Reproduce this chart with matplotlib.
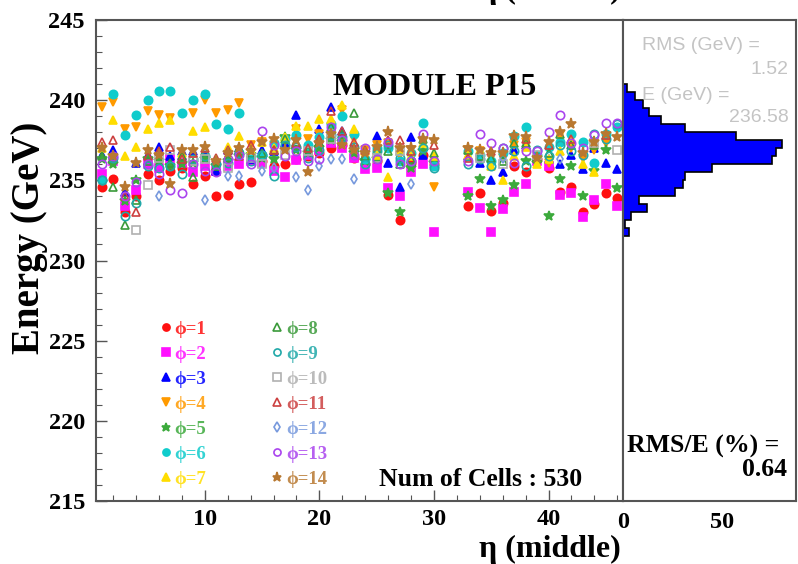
import numpy as np
import matplotlib.pyplot as plt
from matplotlib.ticker import MultipleLocator, FixedLocator

# eta (middle) cell index
eta = [1, 2, 3, 4, 5, 6, 7, 8, 9, 10, 11, 12, 13, 14, 15, 16, 17, 18, 19, 20,
       21, 22, 23, 24, 25, 26, 27, 28, 29, 30,
       33, 34, 35, 36, 37, 38, 39, 40, 41, 42, 43, 44, 45, 46]

N = None
# energy (GeV) per phi row
phi1 = [234.6, 235.1, 233.0, 234.0, 235.4, 235.0, 235.6, 235.8, 234.75, 235.25,
        234.0, 234.1, 234.8, 234.9, 236.2, 235.9, 236.0, 236.3, 236.5, 236.7,
        237.0, 237.2, 236.4, 236.0, 236.2, 234.1, 232.5, 236.1, 236.6, 236.0,
        233.4, 234.2, 233.1, 233.6, 235.9, 235.5, 236.3, 235.8, 234.3, 234.6,
        233.0, 233.5, 234.2, 233.9]
phi2 = [235.4, 236.2, 233.4, 234.4, 236.0, 235.8, 236.3, 236.1, 235.5, 235.9,
        235.6, 235.9, 236.0, 236.2, 236.1, 235.6, 235.2, 236.25, 236.6, 236.9,
        237.3, 237.0, 236.4, 235.7, 235.8, 234.5, 234.0, 235.5, 236.0, 231.8,
        234.3, 233.3, 231.8, 233.2, 234.3, 234.8, 236.2, 235.9, 234.1, 234.2,
        232.7, 233.75, 234.8, 233.4]
phi3 = [236.6, 236.9, 234.3, 236.06, 236.6, 237.1, 236.5, 236.8, 236.8, 236.6,
        235.6, 236.9, 237.0, 236.3, 236.9, 236.8, 237.3, 239.05, 237.1, 238.2,
        239.6, 238.1, 237.0, 236.5, 237.75, 236.1, 234.6, 237.7, 236.6, 236.4,
        236.5, 236.1, 235.0, 235.5, 236.9, 237.2, 236.4, 236.3, 236.0, 236.6,
        235.7, 237.0, 236.1, 235.7]
phi4 = [239.6, 239.9, 238.2, 238.3, 239.3, 239.1, 238.9, N, 239.2, 240.0,
        239.2, 239.4, 239.8, 237.2, 237.4, 237.2, 237.5, 238.2, 237.6, 237.9,
        238.3, 239.4, 237.6, 236.9, 237.2, 237.3, 236.6, 236.9, 237.4, 234.6,
        236.9, 236.8, 236.0, 236.4, 237.2, 237.4, 236.5, 236.1, 237.8, 237.0,
        236.4, 236.9, 237.3, N]
phi5 = [236.3, 236.0, 233.7, 235.0, 236.3, 236.2, 235.9, 236.0, 236.1, 236.3,
        235.9, 236.2, 236.5, 236.6, 236.4, 236.3, 237.7, 236.9, 236.7, 237.0,
        237.5, 237.4, 236.7, 236.2, 236.3, 234.2, 233.0, 235.8, 236.8, 236.1,
        234.0, 235.1, 233.4, 233.8, 234.7, 236.2, 236.1, 232.75, 235.1, 235.9,
        234.0, 235.6, 236.9, 234.5]
phi6 = [235.0, 240.4, 237.8, 239.06, 240.0, 240.55, 240.6, 239.2, 240.0, 240.4,
        238.5, 238.2, 239.2, 236.5, 236.6, 237.3, 237.6, 237.8, 237.2, 237.7,
        238.5, 239.0, 237.9, 236.3, 237.0, 237.0, 236.2, 236.7, 238.6, 235.9,
        236.8, 236.6, 236.2, 236.7, 237.75, 238.3, 236.6, 237.1, 237.4, 237.9,
        237.4, 236.1, 237.9, 238.3]
phi7 = [237.0, 238.75, 236.5, 237.1, 238.2, 238.6, 238.75, 236.7, 238.1, 238.3,
        N, 237.1, 237.75, 236.9, 237.4, 237.0, 237.7, 238.4, 238.4, 238.85,
        238.8, 239.7, 238.2, 236.8, 236.6, 235.2, 236.8, 236.5, 237.3, 236.5,
        236.6, 236.9, 235.9, 235.0, 236.5, 237.1, 236.0, 236.3, 236.8, 237.5,
        236.0, 235.5, N, N]
phi8 = [236.5, 234.6, 232.2, 233.8, 236.2, 236.4, 236.1, 236.5, 235.2, 236.8,
        235.9, 236.4, 237.0, 236.7, 236.7, 236.9, 237.6, 237.4, 236.9, 237.4,
        238.3, 237.9, 239.2, 236.5, 236.9, 236.8, 236.0, 236.3, 237.6, 236.7,
        236.9, 236.5, 236.4, 236.2, 237.3, 237.3, 236.5, 236.7, 237.9, 237.2,
        N, 237.2, N, N]
phi9 = [235.0, 236.4, 232.8, 233.6, 235.9, 235.8, 235.9, 235.4, 236.3, 236.5,
        236.0, 236.1, 236.7, 236.2, 236.6, 235.25, 237.2, 237.1, 236.4, 236.9,
        237.8, 237.7, 237.1, 236.0, 236.8, 237.2, 236.4, 236.2, 237.0, 235.8,
        236.0, 236.3, 235.9, 237.0, 236.8, 235.9, 236.9, 236.5, 237.2, 236.8,
        236.6, 237.9, 237.6, 238.5]
phi10 = [N, N, N, 231.9, 234.7, 236.4, 236.9, N, 236.2, 236.3,
         N, 235.8, N, 236.4, 236.0, N, 236.6, N, 236.8, N,
         237.6, N, N, N, 236.4, N, 236.8, N, N, N,
         N, 236.4, N, 236.0, N, N, 236.6, N, N, N,
         N, 237.3, N, 236.9]
phi11 = [237.4, 237.5, 234.0, 233.0, 236.5, 236.8, 237.1, 236.3, 236.7, 237.0,
         236.4, 236.9, 236.5, 237.2, N, 236.9, N, 237.3, 237.0, 237.6,
         239.3, 238.1, 237.4, 236.9, N, 237.5, 237.5, 236.8, N, 237.2,
         236.4, N, 236.8, N, N, 237.6, N, 237.2, N, 237.6,
         N, N, 237.8, N]
phi12 = [N, N, N, N, N, 234.0, N, N, N, 233.8,
         N, 235.3, 235.25, N, 235.6, 235.8, N, 235.2, 234.4, 235.9,
         236.35, 236.3, 235.1, N, N, N, N, 234.8, N, N,
         N, N, N, 236.4, N, N, N, N, 236.3, N,
         N, N, N, N]
phi13 = [236.0, 236.5, 234.0, 234.9, 236.0, 235.4, 234.4, 234.2, 236.0, 235.6,
         235.5, 236.3, 236.6, 236.0, 238.1, 237.2, 236.5, 236.8, 236.2, 236.3,
         238.3, 237.5, 236.6, 237.0, 236.3, 237.4, 236.0, 236.2, 237.9, 236.2,
         236.2, 237.9, 237.3, 237.0, 236.1, 236.8, 236.8, 238.0, 239.1, 237.3,
         237.0, 237.8, 238.6, 238.6]
phi14 = [237.0, 236.5, 234.6, 236.1, 236.9, 236.6, 234.75, 236.9, 236.9, 237.1,
         236.2, 236.7, 237.0, 236.8, 237.4, 237.6, 236.9, 237.5, 235.5, 237.3,
         237.9, 237.2, 236.9, 236.7, 237.1, 238.0, 237.0, 237.0, 237.6, 237.5,
         237.0, 236.9, 236.7, 236.7, 237.75, 237.7, 236.4, 237.4, 238.0, 238.5,
         236.7, 237.4, 237.9, 237.7]

series = [phi1, phi2, phi3, phi4, phi5, phi6, phi7,
          phi8, phi9, phi10, phi11, phi12, phi13, phi14]
labels = ["ϕ=%d" % (i + 1) for i in range(14)]

# projected histogram (bins of 0.5 GeV from 231.5 to 241, bottom to top)
hist_lo = 231.5
hist_w = 0.5
hist_counts = [3, 1, 4, 12, 8, 26, 30, 31, 45, 75, 77, 80, 57, 31, 19, 13, 10, 6, 2]

# marker style per phi: (marker, color, filled, size)
styles = [("o", "#ff1010", True, 6), ("s", "#ff10ff", True, 6),
          ("^", "#0000ff", True, 6), ("v", "#ff9a00", True, 6),
          ("*", "#3caa3c", True, 7.5), ("o", "#10cccc", True, 6),
          ("^", "#ffdd00", True, 6), ("^", "#3a9a3a", False, 6),
          ("o", "#20a8a8", False, 6), ("s", "#b0b0b0", False, 6),
          ("^", "#cc4040", False, 6), ("d", "#7799dd", False, 5.5),
          ("o", "#aa44ee", False, 6), ("*", "#b87830", True, 8)]

serif = "Liberation Serif"
fig = plt.figure(figsize=(7.98, 5.64), dpi=100)
ax = fig.add_axes([96 / 798, 1 - 501 / 564, 527 / 798, 481 / 564])
axh = fig.add_axes([623 / 798, 1 - 501 / 564, 173 / 798, 481 / 564])

for vals, lab, (m, c, filled, ms) in zip(series, labels, styles):
    y = np.array([np.nan if v is None else v for v in vals], dtype=float)
    ax.plot(eta, y, ls="none", marker=m, ms=ms, mec=c,
            mfc=c if filled else "none", mew=1.2, label=lab)

ax.set_xlim(0.5, 46.5)
ax.set_ylim(215, 245)
ax.xaxis.set_major_locator(FixedLocator([10, 20, 30, 40]))
ax.xaxis.set_minor_locator(MultipleLocator(2))
ax.yaxis.set_major_locator(MultipleLocator(5))
ax.yaxis.set_minor_locator(MultipleLocator(1))
ax.tick_params(which="both", direction="in", color="#555555", top=False, right=False)
ax.tick_params(which="major", length=8, width=1)
ax.tick_params(which="minor", length=4, width=0.8)
ax.tick_params(axis="y", pad=8)
ax.tick_params(axis="x", pad=6)
for t in ax.get_xticklabels() + ax.get_yticklabels():
    t.set_fontfamily(serif)
    t.set_fontweight("bold")
    t.set_fontsize(17.5)
for s in ax.spines.values():
    s.set_color("#555555")
    s.set_linewidth(1.5)

# histogram panel
edges = hist_lo + hist_w * np.arange(len(hist_counts) + 1)
axh.barh(edges[:-1], hist_counts, height=hist_w, align="edge",
         color="#0000ff", linewidth=0)
axh.stairs(hist_counts, edges, orientation="horizontal", color="black", lw=1.2)
axh.set_xlim(0, 87)
axh.set_ylim(215, 245)
axh.set_yticks([])
axh.set_xticks([0, 50])
axh.tick_params(axis="x", length=0, pad=8)
for t in axh.get_xticklabels():
    t.set_fontfamily(serif)
    t.set_fontweight("bold")
    t.set_fontsize(17.5)
for s in axh.spines.values():
    s.set_color("#555555")
    s.set_linewidth(1.5)

# legend
leg = ax.legend(ncol=2, loc="upper left", bbox_to_anchor=(0.09, 0.41),
                frameon=False, handlelength=0.6, handletextpad=0.15,
                columnspacing=3.5, labelspacing=0.42, markerscale=0.85,
                prop={"family": serif, "weight": "bold", "size": 13.5})
for txt, (m, c, filled, ms) in zip(leg.get_texts(), styles):
    txt.set_color(c)
    txt.set_alpha(0.85)

ax.text(0.643, 0.86, "MODULE P15", transform=ax.transAxes, ha="center",
        va="center", fontsize=23, fontweight="bold", family=serif)
fig.text(582 / 798, 1 - 480 / 564, "Num of Cells : 530", ha="right",
         va="center", fontsize=18.5, fontweight="bold", family=serif)

gray = "#c4c4c4"
sans = "Liberation Sans"
fig.text(642 / 798, 1 - 46 / 564, "RMS (GeV) =", color=gray, fontsize=14,
         family=sans, va="center")
fig.text(789 / 798, 1 - 70 / 564, "1.52", color=gray, fontsize=14,
         family=sans, va="center", ha="right")
fig.text(642 / 798, 1 - 96 / 564, "E (GeV) =", color=gray, fontsize=14,
         family=sans, va="center")
fig.text(789 / 798, 1 - 118 / 564, "236.58", color=gray, fontsize=14,
         family=sans, va="center", ha="right")

fig.text(627 / 798, 1 - 446 / 564, "RMS/E (%) =", fontsize=18.5,
         fontweight="bold", family=serif, va="center")
fig.text(787 / 798, 1 - 470 / 564, "0.64", fontsize=18.5,
         fontweight="bold", family=serif, va="center", ha="right")

fig.text(30 / 798, 1 - 238 / 564, "Energy (GeV)", rotation=90, ha="center",
         va="center", fontsize=28, fontweight="bold", family=serif)
fig.text(550 / 798, 1 - 557 / 564, "η (middle)", ha="center", va="baseline",
         fontsize=23, fontweight="bold", family=serif)
# label of the panel above, cut by the page edge
fig.text(550 / 798, 1 - 5 / 564, "η (middle)", ha="center", va="bottom",
         fontsize=23, fontweight="bold", family=serif)

fig.savefig("out.png", dpi=100)
